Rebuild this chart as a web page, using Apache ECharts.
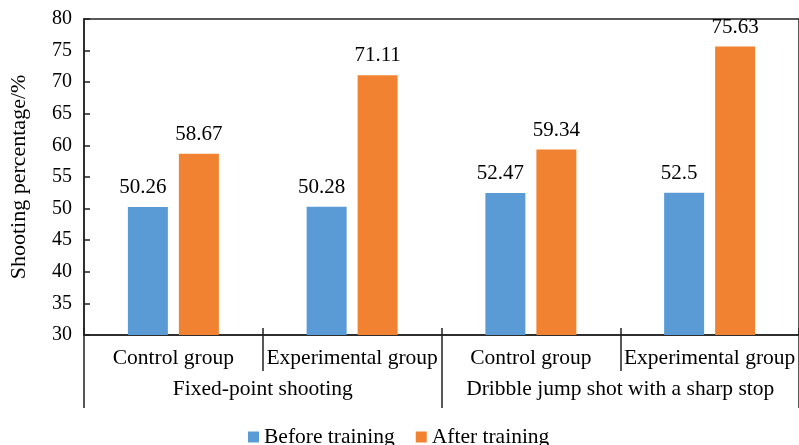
<!DOCTYPE html>
<html>
<head>
<meta charset="utf-8">
<script src="https://cdn.jsdelivr.net/npm/echarts@6/dist/echarts.min.js"></script>
<style>html,body{margin:0;padding:0;background:#fff}#c{width:799px;height:445px}</style>
</head>
<body>
<div id="c"></div>
<script>
const groups = ['Control group', 'Experimental group', 'Control group', 'Experimental group'];
const topGroups = ['Fixed-point shooting', 'Dribble jump shot with a sharp stop'];
const seriesNames = ['Before training', 'After training'];
const beforeValues = [50.26, 50.28, 52.47, 52.5];
const afterValues = [58.67, 71.11, 59.34, 75.63];
const yTicks = { min: 30, max: 80, interval: 5 };

const FONT = 'Liberation Serif';
const lineStyle = { color: '#222', width: 1.5 };
const chart = echarts.init(document.getElementById('c'));
chart.setOption({
  animation: false,
  textStyle: { fontFamily: FONT, color: '#000' },
  grid: { left: 84, right: -5, top: 19, bottom: 110, show: true, borderColor: '#222', borderWidth: 1.5, backgroundColor: 'transparent' },
  legend: {
    data: seriesNames, top: 421, left: 243, itemWidth: 11, itemHeight: 11, itemGap: 21,
    icon: 'rect', textStyle: { fontFamily: FONT, fontSize: 21.5, color: '#000' }
  },
  xAxis: [
    { type: 'category', data: groups, position: 'bottom',
      axisLine: { show: true, lineStyle: lineStyle },
      axisTick: { show: true, length: 36, lineStyle: lineStyle },
      axisLabel: { fontFamily: FONT, fontSize: 21.5, color: '#000', margin: 12, interval: 0 } },
    { type: 'category', data: topGroups, position: 'bottom',
      axisLine: { show: false },
      axisTick: { show: true, length: 73, lineStyle: lineStyle },
      axisLabel: { fontFamily: FONT, fontSize: 21.5, color: '#000', margin: 43, interval: 0 } },
    { type: 'category', data: groups, position: 'bottom',
      axisLine: { show: false },
      axisTick: { show: true, inside: true, length: 7, lineStyle: lineStyle },
      axisLabel: { show: false } }
  ],
  yAxis: {
    type: 'value', min: yTicks.min, max: yTicks.max, interval: yTicks.interval,
    name: 'Shooting percentage/%', nameLocation: 'middle', nameGap: 54,
    nameTextStyle: { fontFamily: FONT, fontSize: 22, color: '#000' },
    axisLine: { show: true, lineStyle: lineStyle },
    axisTick: { show: true, inside: true, length: 6, lineStyle: lineStyle },
    axisLabel: { fontFamily: FONT, fontSize: 20, color: '#000', margin: 12 },
    splitLine: { show: false }
  },
  series: [
    { name: seriesNames[0], type: 'bar', xAxisIndex: 0, data: beforeValues, barWidth: 40, barGap: '27.5%',
      itemStyle: { color: '#5B9BD5' },
      label: { show: true, position: 'top', distance: 9, offset: [-5, 0], fontFamily: FONT, fontSize: 21, color: '#000' } },
    { name: seriesNames[1], type: 'bar', xAxisIndex: 0, data: afterValues, barWidth: 40, barGap: '27.5%',
      itemStyle: { color: '#F08231' },
      label: { show: true, position: 'top', distance: 9, fontFamily: FONT, fontSize: 21, color: '#000' } }
  ]
});
</script>
</body>
</html>
